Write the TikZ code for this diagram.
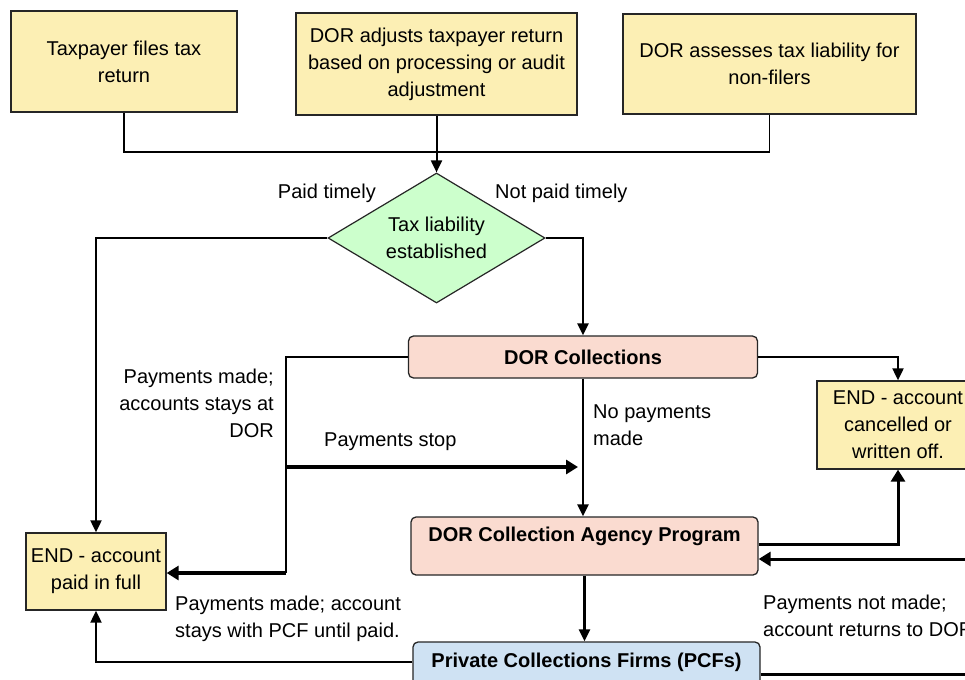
\documentclass[tikz,border=0pt]{standalone}
\usepackage{fontspec}
\setmainfont{Liberation Sans}
\usetikzlibrary{arrows.meta,shapes.geometric,calc}
\definecolor{boxyellow}{HTML}{FCEFB4}
\definecolor{boxpink}{HTML}{FADBD0}
\definecolor{boxgreen}{HTML}{CCFFCC}
\definecolor{boxblue}{HTML}{CFE2F3}
\begin{document}
\begin{tikzpicture}[x=1pt,y=-1pt,
  every node/.style={font=\fontsize{20}{27}\selectfont},
  box/.style={draw=black!85,line width=1.3pt,rectangle,align=center,inner sep=0pt},
  ybox/.style={box,fill=boxyellow},
  pbox/.style={box,fill=boxpink,rounded corners=5pt,font=\fontsize{20}{27}\selectfont\bfseries},
  bbox/.style={box,fill=boxblue,rounded corners=5pt,font=\fontsize{20}{27}\selectfont\bfseries},
  dia/.style={draw=black!85,line width=1.2pt,diamond,shape aspect=1.67,fill=boxgreen,align=center,inner sep=0pt},
  lbl/.style={inner sep=0pt},
  thinline/.style={line width=1.3pt},
  medline/.style={line width=2pt},
  thickline/.style={line width=3.5pt},
  arr/.style={-{Triangle[length=12pt,width=11pt]}},
  tarr/.style={-{Triangle[length=12pt,width=14pt]}}
]
\clip (0,0) rectangle (965,679);
\fill[white] (0,0) rectangle (965,679);

% top boxes
\node[ybox,minimum width=226pt,minimum height=101pt] (b1) at (124,61.5) {Taxpayer files tax\\return};
\node[ybox,minimum width=281pt,minimum height=102pt] (b2) at (436.5,64) {DOR adjusts taxpayer return\\based on processing or audit\\adjustment};
\node[ybox,minimum width=293pt,minimum height=100pt] (b3) at (769.5,64) {DOR assesses tax liability for\\non-filers};

% decision
\node[dia,minimum width=217pt,minimum height=130pt] (d) at (436.5,238) {Tax liability\\established};

% process boxes
\node[pbox,minimum width=349pt,minimum height=42pt] (dc) at (583,357) {DOR Collections};
\node[pbox,minimum width=347pt,minimum height=58pt] (ag) at (584.5,546) {DOR Collection Agency Program\\[-12pt]\strut};
\node[bbox,minimum width=347pt,minimum height=58pt] (pc) at (586.5,671) {Private Collections Firms (PCFs)\\[-14pt]\strut};

% end boxes
\node[ybox,minimum width=140pt,minimum height=77pt] (ep) at (96,571.5) {END - account\\paid in full};
\node[ybox,minimum width=162pt,minimum height=88pt] (ec) at (898,425) {END - account\\cancelled or\\written off.};

% junctions and free ends
\coordinate (jn) at (286,573);
\coordinate (ps1) at (286,467);
\coordinate (ps2) at (578,467);
\coordinate (rin) at (980,559);
\coordinate (rout) at (980,674);

% top connectors
\draw[thinline] (b1.south) |- (436.5,152) -| (b3.south);
\draw[medline,arr] (b2.south) -- (d.north);

% decision branches
\draw[medline,arr] (d.west) -| (ep.north);
\draw[medline,arr,line width=2.4pt] (d.east) -| (dc.north);

% DOR collections
\draw[medline] (dc.west) -| (jn);
\draw[thickline,tarr] (jn) -- (jn -| ep.east);
\draw[thickline,tarr] (ps1) -- (ps2);
\draw[medline,arr,line width=2.4pt] (dc.south) -- (dc.south |- ag.north);
\draw[medline,arr] (dc.east) -| (ec.north);

% agency program
\draw[thickline,line width=3pt,tarr] ([yshift=2pt]ag.east) -| (ec.south);
\draw[thickline,line width=3pt,tarr] (rin) -- (rin -| ag.east);
\draw[medline,arr,line width=2.4pt] (ag.south) -- (ag.south |- pc.north);

% PCFs
\draw[medline,arr] ([yshift=9pt]pc.west) -| (ep.south);
\draw[thickline,line width=3pt] ([yshift=-3pt]pc.east) -- (rout);

% labels
\node[lbl,anchor=east] (l1) at (376,193) {Paid timely};
\node[lbl,anchor=west] (l2) at (495,193) {Not paid timely};
\node[lbl,anchor=east,align=right] (l3) at (274,403) {Payments made;\\accounts stays at\\DOR};
\node[lbl,anchor=west] (l4) at (324,442) {Payments stop};
\node[lbl,anchor=west,align=left] (l5) at (593,425) {No payments\\made};
\node[lbl,anchor=west,align=left] (l6) at (175,619) {Payments made; account\\stays with PCF until paid.};
\node[lbl,anchor=west,align=left] (l7) at (763,616) {Payments not made;\\account returns to DOR};
\end{tikzpicture}
\end{document}
